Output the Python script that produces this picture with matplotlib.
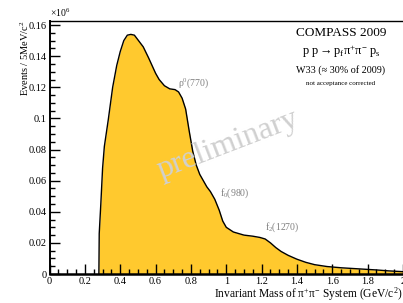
import numpy as np
import matplotlib
matplotlib.use('Agg')
import matplotlib.pyplot as plt
from matplotlib.ticker import MultipleLocator

plt.rcParams['font.family'] = ['Liberation Serif', 'DejaVu Serif']
plt.rcParams['mathtext.fontset'] = 'custom'
plt.rcParams['mathtext.rm'] = 'Liberation Serif'
plt.rcParams['mathtext.it'] = 'Liberation Serif:italic'

# invariant mass (GeV/c^2) and events per 5 MeV/c^2 (x 10^6)
mass = [0.279, 0.281, 0.29, 0.30, 0.31, 0.332, 0.357, 0.38, 0.40, 0.42, 0.44,
        0.46, 0.48, 0.50, 0.53, 0.56, 0.58, 0.60, 0.62, 0.65, 0.68, 0.71, 0.73,
        0.75, 0.77, 0.79, 0.81, 0.83, 0.85, 0.87, 0.89, 0.91, 0.935, 0.96, 0.98,
        1.00, 1.04, 1.10, 1.15, 1.19, 1.22, 1.25, 1.28, 1.31, 1.35, 1.40, 1.45,
        1.50, 1.57, 1.65, 1.75, 1.85, 1.92, 2.0]
events = [0.0, 0.026, 0.045, 0.068, 0.082, 0.099, 0.120, 0.134, 0.143, 0.150,
          0.1535, 0.154, 0.1535, 0.1505, 0.146, 0.139, 0.134, 0.129, 0.125,
          0.121, 0.119, 0.1185, 0.117, 0.113, 0.106, 0.092, 0.079, 0.070, 0.064,
          0.060, 0.056, 0.053, 0.048, 0.041, 0.034, 0.030, 0.027, 0.025, 0.0243,
          0.0235, 0.0225, 0.020, 0.017, 0.0145, 0.012, 0.0095, 0.0075, 0.006,
          0.0048, 0.004, 0.0033, 0.0026, 0.002, 0.0015]

# resonance labels
res_names = [r'$\mathregular{\rho^{0}}$(770)', r'f$_{0}$(980)', r'f$_{2}$(1270)']
res_x = [0.726, 0.963, 1.218]
res_y = [0.1228, 0.052, 0.030]

fig = plt.figure(figsize=(4.03, 3.03), dpi=100)
ax = fig.add_axes([0.123, 0.0957, 0.877, 0.836])

ax.fill_between(mass, events, color='#ffc92e', lw=0)
ax.plot(mass, events, color='k', lw=1)

ax.set_xlim(0, 2.0)
ax.set_ylim(0, 0.1628)
ax.xaxis.set_minor_locator(MultipleLocator(0.05))
ax.yaxis.set_minor_locator(MultipleLocator(0.005))
ax.set_xticks(np.arange(0, 2.01, 0.2))
ax.set_xticklabels(['0', '0.2', '0.4', '0.6', '0.8', '1', '1.2', '1.4', '1.6', '1.8', '2'])
ax.set_yticks(np.arange(0, 0.161, 0.02))
ax.set_yticklabels(['0', '0.02', '0.04', '0.06', '0.08', '0.1', '0.12', '0.14', '0.16'])
ax.tick_params(which='both', direction='in', labelsize=7.5, top=False, right=False, pad=2)
ax.tick_params(which='major', length=7, width=1)
ax.tick_params(which='minor', length=3.5, width=1)
ax.spines['bottom'].set_linewidth(1.8)
ax.spines['left'].set_linewidth(1.4)
ax.spines['top'].set_linewidth(1.0)
ax.spines['right'].set_linewidth(0.6)
ax.spines['right'].set_color('#999999')

ax.set_xlabel(r'Invariant Mass of $\mathregular{\pi^{+}\pi^{-}}$ System (GeV/c$^{2}$)',
              fontsize=8.3, loc='right', labelpad=0)
ax.set_ylabel('Events / 5MeV/c$^{2}$', fontsize=7.5, loc='top', labelpad=-2)
fig.text(0.124, 0.936, r'$\times$10$^{6}$', fontsize=7, va='bottom', ha='left')

for name, x, y in zip(res_names, res_x, res_y):
    ax.text(x, y, name, fontsize=7, color='#808080', va='center', ha='left')

ax.text(1.008, 0.083, 'preliminary', fontsize=23, color='#d0d0d0', rotation=21,
        ha='center', va='center', zorder=5)

ax.text(1.648, 0.155, 'COMPASS 2009', fontsize=9.5, ha='center', va='center')
ax.text(1.65, 0.1427, r'$\mathregular{p\ p \rightarrow p_{f}\pi^{+}\pi^{-}\ p_{s}}$',
        fontsize=9, ha='center', va='center')
ax.text(1.648, 0.131, 'W33 (≈ 30% of 2009)', fontsize=7.3, ha='center', va='center')
ax.text(1.645, 0.1225, 'not acceptance corrected', fontsize=5, ha='center', va='center')

fig.savefig('out.png', dpi=100)
